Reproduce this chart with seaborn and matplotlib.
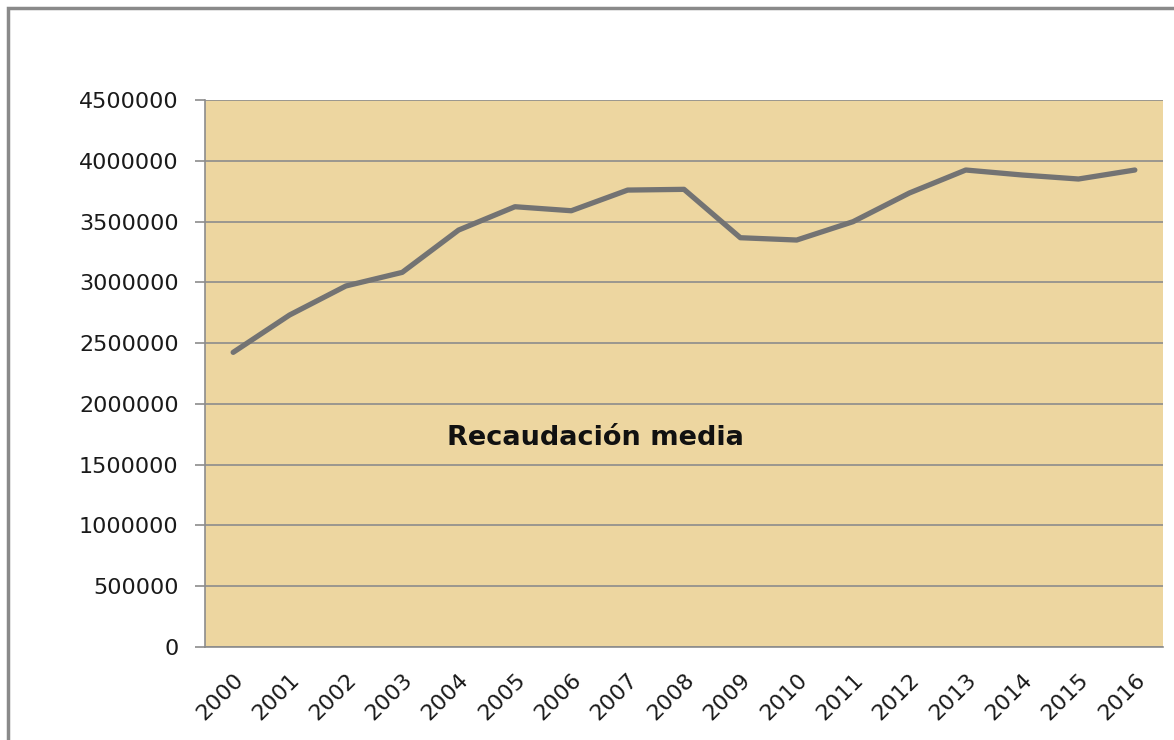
import matplotlib
matplotlib.use("Agg")
import matplotlib.pyplot as plt
import seaborn as sns
import pandas as pd
import numpy as np
from matplotlib.patches import Rectangle

years = ["2000", "2001", "2002", "2003", "2004", "2005", "2006", "2007", "2008",
         "2009", "2010", "2011", "2012", "2013", "2014", "2015", "2016"]
recaudacion = [2424000, 2731000, 2970000, 3082000, 3430000, 3622000, 3589000,
               3759000, 3765000, 3367000, 3348000, 3499000, 3735000, 3924000,
               3883000, 3850000, 3924000]
y_ticks = [0, 500000, 1000000, 1500000, 2000000, 2500000, 3000000,
           3500000, 4000000, 4500000]
label = "Recaudación media"

sns.set_style("white")
plt.rcParams['font.family'] = ['DejaVu Sans']

df = pd.DataFrame({"pos": np.arange(len(years)), "valor": recaudacion})

fig = plt.figure(figsize=(11.74, 7.40), dpi=100)
ax = fig.add_axes([205 / 1174, 1 - 647 / 740, 958 / 1174, 547 / 740])
ax.set_facecolor("#edd6a0")

# outer frame of the chart object
fig.patches.append(Rectangle((8 / 1174, -0.05), 1.2, 1 - 8 / 740 + 0.05,
                             transform=fig.transFigure, fill=False,
                             edgecolor="#8a8a8a", linewidth=2.5))

sns.lineplot(data=df, x="pos", y="valor", ax=ax, color="#737373",
             linewidth=3.8, zorder=3)

ax.set_xlim(-0.5, len(years) - 0.5)
ax.set_ylim(0, 4500000)
ax.set_yticks(y_ticks)
ax.set_yticklabels([str(v) for v in y_ticks], fontsize=16, color="#1a1a1a")
ax.set_xticks(np.arange(len(years)))
ax.set_xticklabels(years, rotation=45, ha="right", rotation_mode="anchor",
                   fontsize=16, color="#1a1a1a")
# category boundary ticks (the original has no tick between 2011 and 2012)
bounds = [b for b in np.arange(len(years) + 1) - 0.5 if b != 11.5]
ax.set_xticks(bounds, minor=True)
ax.tick_params(axis="x", which="major", length=0, pad=16)
ax.tick_params(axis="x", which="minor", length=7, width=1.2, color="#8c8c8c",
               direction="out")
ax.tick_params(axis="y", length=7, width=1.2, color="#8c8c8c", direction="out",
               pad=12, left=True)
ax.yaxis.grid(True, color="#8c8c8c", linewidth=1.2)
ax.set_axisbelow(True)
ax.set_xlabel("")
ax.set_ylabel("")

for side in ["top", "right"]:
    ax.spines[side].set_visible(False)
for side in ["left", "bottom"]:
    ax.spines[side].set_color("#8c8c8c")
    ax.spines[side].set_linewidth(1.2)

ax.text(0.2526, 0.382, label, transform=ax.transAxes, fontsize=19.5,
        fontweight="bold", color="#111111", va="center", ha="left")

fig.savefig("out.png", dpi=100)
